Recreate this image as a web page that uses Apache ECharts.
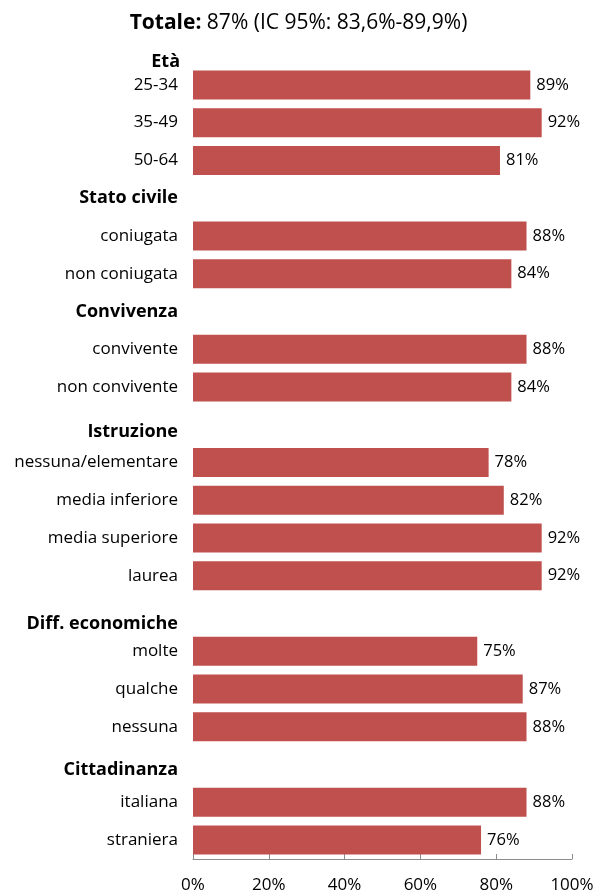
<!DOCTYPE html>
<html>
<head>
<meta charset="utf-8">
<script src="https://cdn.jsdelivr.net/npm/echarts@6/dist/echarts.min.js"></script>
<style>
  html, body { margin: 0; padding: 0; background: #fff; }
  #chart { width: 597px; height: 894px; }
</style>
</head>
<body>
<div id="chart"></div>
<script>
var categories = ['25-34', '35-49', '50-64', 'Stato civile', 'coniugata', 'non coniugata',
  'Convivenza', 'convivente', 'non convivente', 'Istruzione', 'nessuna/elementare',
  'media inferiore', 'media superiore', 'laurea', 'Diff. economiche', 'molte', 'qualche',
  'nessuna', 'Cittadinanza', 'italiana', 'straniera'];
var headers = ['Stato civile', 'Convivenza', 'Istruzione', 'Diff. economiche', 'Cittadinanza'];
var values = [89, 92, 81, null, 88, 84, null, 88, 84, null, 78, 82, 92, 92, null, 75, 87, 88, null, 88, 76];
var xTicks = [0, 20, 40, 60, 80, 100];

var font = 'Open Sans';
var chart = echarts.init(document.getElementById('chart'));

var headStyle = { fontFamily: font, fontSize: 18, fontWeight: 'bold', color: '#000' };

chart.setOption({
  animation: false,
  title: {
    text: '{b|Totale:} 87% (IC 95%: 83,6%-89,9%)',
    left: 'center',
    top: 8,
    textStyle: {
      fontFamily: font, fontSize: 21, fontWeight: 'normal', color: '#000',
      rich: { b: { fontFamily: font, fontSize: 21, fontWeight: 'bold', color: '#000' } }
    }
  },
  graphic: [{
    type: 'text',
    right: 597 - 180,
    top: 53,
    style: { text: 'Età', font: 'bold 18px "Open Sans"', fill: '#000' }
  }],
  grid: { left: 193, right: 25, top: 66, bottom: 35, containLabel: false },
  xAxis: {
    type: 'value',
    min: xTicks[0],
    max: xTicks[xTicks.length - 1],
    interval: 20,
    axisLine: { show: true, lineStyle: { color: '#8c8c8c' } },
    axisTick: { show: true, inside: true, length: 5, lineStyle: { color: '#8c8c8c' } },
    splitLine: { show: false },
    axisLabel: { formatter: '{value}%', margin: 18, fontFamily: font, fontSize: 17, color: '#000' }
  },
  yAxis: {
    type: 'category',
    data: categories,
    inverse: true,
    axisLine: { show: false },
    axisTick: { show: false },
    axisLabel: {
      margin: 15,
      fontFamily: font, fontSize: 17, color: '#000',
      formatter: function (v) {
        if (v === 'Istruzione') return '{h1|' + v + '}';
        if (v === 'Diff. economiche') return '{h2|' + v + '}';
        if (v === 'Cittadinanza') return '{h3|' + v + '}';
        if (headers.indexOf(v) >= 0) return '{h|' + v + '}';
        return v;
      },
      rich: {
        h: headStyle,
        h1: Object.assign({ padding: [14, 0, 0, 0] }, headStyle),
        h2: Object.assign({ padding: [20, 0, 0, 0] }, headStyle),
        h3: Object.assign({ padding: [10, 0, 0, 0] }, headStyle)
      }
    }
  },
  series: [{
    type: 'bar',
    data: values,
    barWidth: 29,
    itemStyle: { color: '#C0504D' },
    label: {
      show: true, position: 'right', distance: 6,
      formatter: '{c}%', fontFamily: font, fontSize: 16.5, color: '#000'
    }
  }]
});
</script>
</body>
</html>
